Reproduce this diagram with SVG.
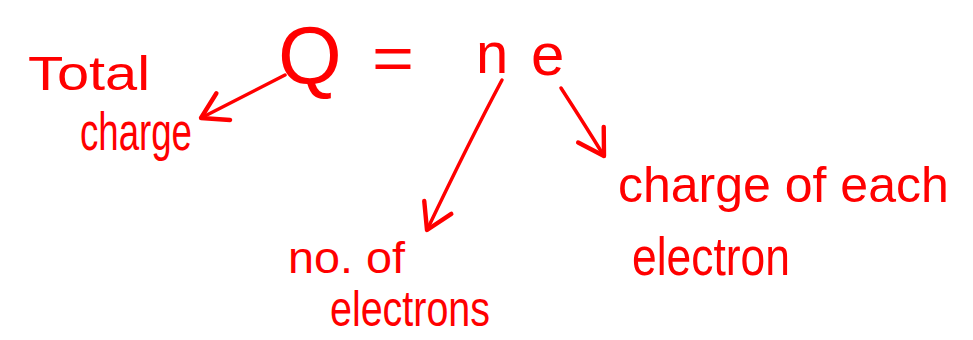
<svg xmlns="http://www.w3.org/2000/svg" width="973" height="340" viewBox="0 0 973 340">
  <style>
    text { font-family: "Liberation Sans", Arial, sans-serif; fill: #ff0000; }
    .conn { fill: none; stroke: #ff0000; stroke-width: 3.5; stroke-linecap: round; stroke-linejoin: round; }
  </style>
  <defs>
    <marker id="arrow" markerUnits="userSpaceOnUse" markerWidth="40" markerHeight="40" refX="0" refY="0" viewBox="-22 -16 26 32" orient="auto" overflow="visible">
      <path d="M-20,-12 L0,0 L-20,12" fill="none" stroke="#ff0000" stroke-width="3.5" stroke-linecap="round" stroke-linejoin="round"/>
    </marker>
  </defs>
  <rect width="973" height="340" fill="#ffffff"/>
  <g id="formula">
    <text x="278" y="84" font-size="82">Q</text>
    <text x="372" y="79" font-size="62" textLength="42" lengthAdjust="spacingAndGlyphs">=</text>
    <text x="476" y="73" font-size="58">n</text>
    <text x="531" y="75" font-size="60">e</text>
  </g>
  <g id="node-total-charge">
    <text x="28" y="90" font-size="48" textLength="122" lengthAdjust="spacingAndGlyphs">Total</text>
    <text x="80" y="150" font-size="54" textLength="112" lengthAdjust="spacingAndGlyphs">charge</text>
  </g>
  <g id="node-number-of-electrons">
    <text x="288" y="273" font-size="44" textLength="117" lengthAdjust="spacingAndGlyphs">no. of</text>
    <text x="330" y="326" font-size="50" textLength="160" lengthAdjust="spacingAndGlyphs">electrons</text>
  </g>
  <g id="node-charge-of-each-electron">
    <text x="618" y="202" font-size="50">charge of each</text>
    <text x="632" y="275" font-size="54" textLength="158" lengthAdjust="spacingAndGlyphs">electron</text>
  </g>
  <g id="connectors">
    <path class="conn" d="M285,75 L201,118" marker-end="url(#arrow)"/>
    <path class="conn" d="M502,80 Q470,140 427,230" marker-end="url(#arrow)"/>
    <path class="conn" d="M561,88 Q585,125 604,156" marker-end="url(#arrow)"/>
  </g>
</svg>
